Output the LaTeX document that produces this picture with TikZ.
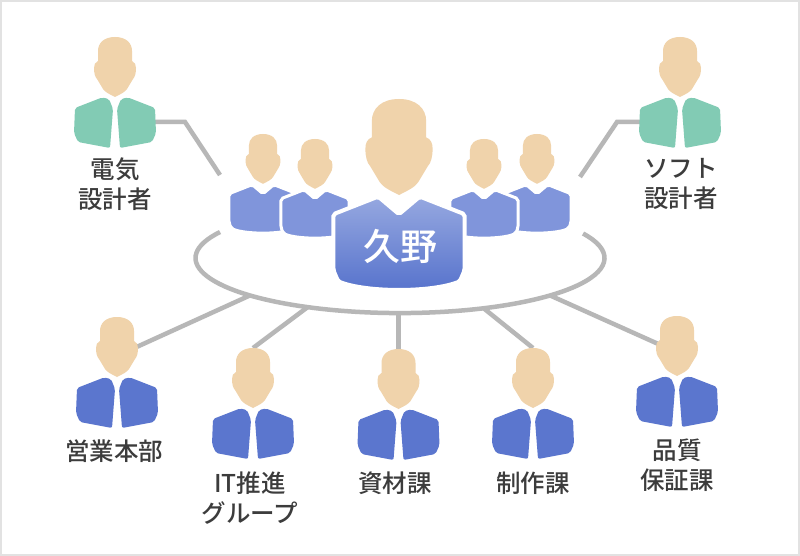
\documentclass[tikz,border=0pt]{standalone}
\usepackage{fontspec}
\setmainfont{Noto Sans CJK JP Medium}
\usetikzlibrary{shapes.geometric}
\definecolor{SkinTone}{HTML}{F0D3AB}
\definecolor{TeamGreen}{HTML}{82CBB4}
\definecolor{TeamBlue}{HTML}{5B76CE}
\definecolor{CoreBlue}{HTML}{8095DB}
\definecolor{CoreTop}{HTML}{96A8E0}
\definecolor{CoreLow}{HTML}{5672CC}
\definecolor{LinkGray}{HTML}{B7B7B7}
\definecolor{FrameGray}{HTML}{E2E2E2}
\definecolor{TextGray}{HTML}{3C3C3C}
\newcommand{\headoutline}{
  \fill[SkinTone] (0,0) .. controls (-11,0) and (-17,6) .. (-17,14) -- (-17,24)
    .. controls (-20,25) and (-21,28) .. (-21,31) .. controls (-21,36) and (-20,40) .. (-18,42)
    -- (-12,52) .. controls (-10,55) and (-6,57) .. (0,60) .. controls (6,57) and (10,55) .. (12,52)
    -- (18,42) .. controls (20,40) and (21,36) .. (21,31) .. controls (21,28) and (20,25) .. (17,24)
    -- (17,14) .. controls (17,6) and (11,0) .. (0,0) -- cycle;
}
\tikzset{
  splitperson/.pic={
    \headoutline
    \foreach \side in {1,-1}
      \fill[#1,xscale=\side,rounded corners=2pt] (-13,60.5) -- (-40,71) -- (-41,96) -- (-37,105)
        -- (-5,111) -- (-2,72) -- (-6,62) -- cycle;
  },
  coreperson/.pic={
    \headoutline
    \draw[draw=white,line width=3pt,rounded corners=2pt,#1] (-13,61) -- (0,72) -- (13,61) -- (41,72)
      -- (41,107) -- (38,114) .. controls (20,121) and (-20,121) .. (-38,114) -- (-41,107)
      -- (-41,72) -- cycle;
  },
  link/.style={draw=LinkGray,line width=4.5pt},
  caption/.style={text=TextGray,align=center,inner sep=0pt,
    font=\fontsize{24.5}{30}\selectfont},
}
\begin{document}
\begin{tikzpicture}[x=1pt,y=-1pt]
  \draw[draw=FrameGray,fill=white,line width=2pt] (1,1) rectangle (799,555);
  % people
  \coordinate (elec) at (115,37);
  \coordinate (soft) at (680,37);
  \coordinate (sales) at (117,317);
  \coordinate (itgrp) at (253,348);
  \coordinate (parts) at (398.5,349);
  \coordinate (make) at (533,348);
  \coordinate (quality) at (677,316);
  % ring and links
  \node[ellipse,minimum width=409pt,minimum height=110pt,inner sep=0pt,outer sep=0pt] (hub) at (400,258) {};
  \coordinate (hubstart) at (220,232);
  \draw[link] (hubstart) arc[start angle=208.3,end angle=-26.5,x radius=204.5,y radius=55];
  \coordinate (elecarm) at (185,122);
  \coordinate (elecend) at (220,175);
  \coordinate (softarm) at (617,122);
  \coordinate (softend) at (580,177);
  \coordinate (elecbody) at (150,122);
  \coordinate (softbody) at (645,122);
  \coordinate (salesend) at (130,350);
  \coordinate (qualityend) at (665,347);
  \draw[link] (elecbody)--(elecarm)--(elecend);
  \draw[link] (softbody)--(softarm)--(softend);
  \draw[link] (hub.194)--(salesend);
  \draw[link] (hub.208)--(itgrp);
  \draw[link] (parts |- hub.south)--(parts);
  \draw[link] (hub.329)--(make);
  \draw[link] (hub.346)--(qualityend);
  \pic at (elec) {splitperson=TeamGreen};
  \pic at (soft) {splitperson=TeamGreen};
  \pic at (sales) {splitperson=TeamBlue};
  \pic at (itgrp) {splitperson=TeamBlue};
  \pic at (parts) {splitperson=TeamBlue};
  \pic at (make) {splitperson=TeamBlue};
  \pic at (quality) {splitperson=TeamBlue};
  % core team
  \coordinate (core1) at (263,134);
  \coordinate (core2) at (315,139);
  \coordinate (core3) at (484,139);
  \coordinate (core4) at (537,134);
  \coordinate (leader) at (399,99);
  \pic[scale=.83] at (core1) {coreperson={fill=CoreBlue}};
  \pic[scale=.83] at (core2) {coreperson={fill=CoreBlue}};
  \pic[scale=.83] at (core4) {coreperson={fill=CoreBlue}};
  \pic[scale=.83] at (core3) {coreperson={fill=CoreBlue}};
  \pic[scale=1.6] at (leader) {coreperson={line width=4pt,top color=CoreTop,bottom color=CoreLow}};
  \node[text=white,inner sep=0pt,font=\fontsize{37}{37}\selectfont] (leadername) at (400,246) {久野};
  % labels
  \node[caption] (eleclabel) at (115,184) {電気\\設計者};
  \node[caption] (softlabel) at (681,184) {ソフト\\設計者};
  \node[caption] (saleslabel) at (114,451) {営業本部};
  \node[caption] (itlabel) at (250,498) {IT推進\\グループ};
  \node[caption] (partslabel) at (395,483) {資材課};
  \node[caption] (makelabel) at (533,483) {制作課};
  \node[caption] (qualitylabel) at (677,465) {品質\\保証課};
\end{tikzpicture}
\end{document}
